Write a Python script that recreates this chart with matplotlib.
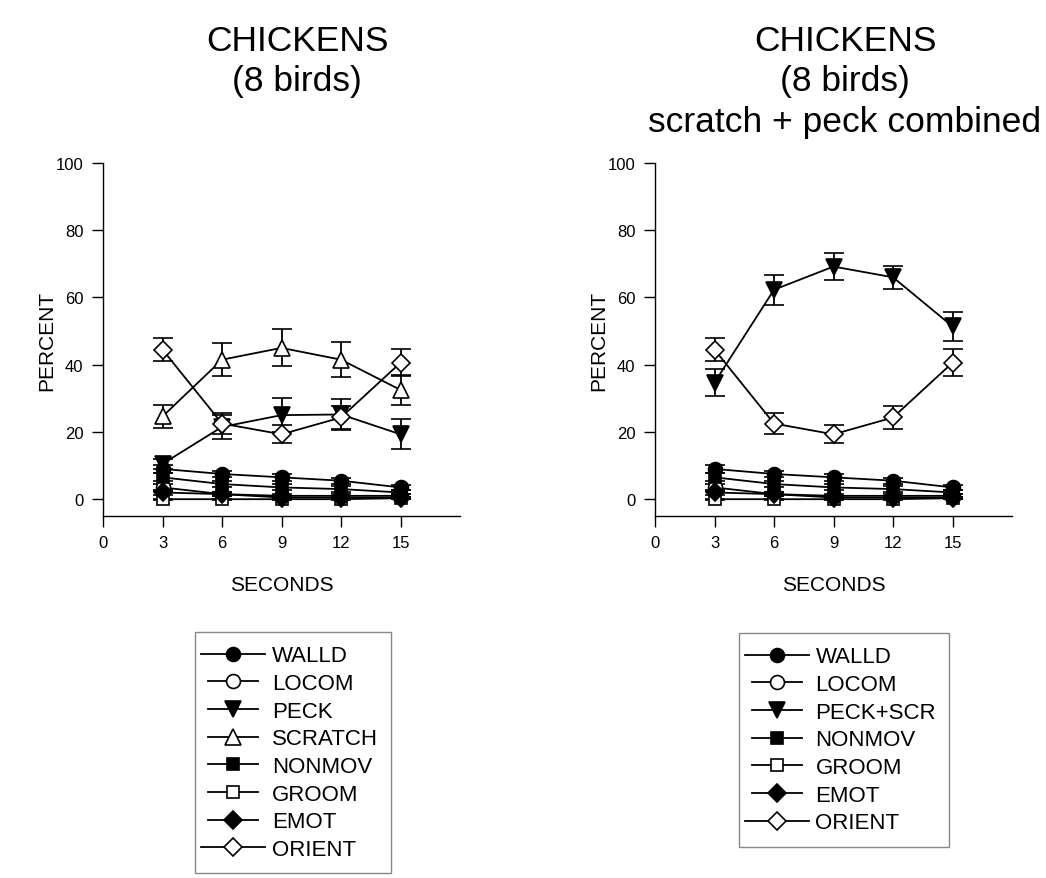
import numpy as np
import matplotlib.pyplot as plt
from matplotlib.legend_handler import HandlerLine2D

plt.rcParams['font.family'] = ['Liberation Sans', 'DejaVu Sans']

seconds = [3, 6, 9, 12, 15]

# mean percent of time per behaviour, 8 birds
walld = [9.0, 7.5, 6.5, 5.5, 3.5]
walld_se = [1.2, 1.0, 1.0, 0.9, 0.8]
locom = [3.5, 1.5, 1.0, 1.0, 1.0]
locom_se = [1.0, 0.6, 0.5, 0.5, 0.5]
peck = [10.5, 21.5, 25.0, 25.2, 19.3]
peck_se = [1.5, 3.5, 5.0, 4.5, 4.5]
scratch = [24.6, 41.5, 45.0, 41.5, 32.5]
scratch_se = [3.3, 4.9, 5.5, 5.2, 4.5]
nonmov = [6.5, 4.5, 3.5, 3.0, 2.0]
nonmov_se = [1.2, 1.0, 0.9, 0.8, 0.6]
groom = [0.0, 0.0, 0.0, 0.0, 0.3]
groom_se = [0.2, 0.2, 0.2, 0.2, 0.3]
emot = [2.0, 1.5, 0.5, 0.5, 0.5]
emot_se = [0.8, 0.6, 0.4, 0.3, 0.3]
orient = [44.5, 22.5, 19.3, 24.3, 40.6]
orient_se = [3.5, 3.2, 2.7, 3.4, 4.0]

# scratch and peck summed
peck_scr = [34.7, 62.3, 69.2, 66.0, 51.4]
peck_scr_se = [3.9, 4.5, 4.0, 3.4, 4.2]

styles = {
    'WALLD': ('o', 'black'),
    'LOCOM': ('o', 'white'),
    'PECK': ('v', 'black'),
    'PECK+SCR': ('v', 'black'),
    'SCRATCH': ('^', 'white'),
    'NONMOV': ('s', 'black'),
    'GROOM': ('s', 'white'),
    'EMOT': ('D', 'black'),
    'ORIENT': ('D', 'white'),
}
msize = {'o': 10, 'v': 11, '^': 11, 's': 9, 'D': 9}


class LongLine(HandlerLine2D):
    # first and last legend entries get a slightly longer line
    def get_xdata(self, legend, xdescent, ydescent, width, height, fontsize):
        xd, xm = super().get_xdata(legend, xdescent, ydescent, width, height, fontsize)
        ext = 5.0
        xd = np.array([-xdescent - ext, -xdescent + width + ext])
        return xd, xm


def draw_panel(ax, series):
    handles = []
    for name, vals, err in series:
        mk, fc = styles[name]
        h = ax.errorbar(seconds, vals, yerr=err, marker=mk, ms=msize[mk],
                        mfc=fc, mec='black', mew=1.2, color='black', lw=1.3,
                        elinewidth=1.3, capsize=7, capthick=1.3, clip_on=False)
        for a in h.lines[1] + h.lines[2]:
            a.set_clip_on(False)
        h.lines[0].set_label(name)
        handles.append(h.lines[0])
    ax.set_xlim(0, 18)
    ax.set_ylim(-5, 100)
    ax.set_xticks([0, 3, 6, 9, 12, 15])
    ax.set_yticks([0, 20, 40, 60, 80, 100])
    ax.spines['top'].set_visible(False)
    ax.spines['right'].set_visible(False)
    for s in ['left', 'bottom']:
        ax.spines[s].set_linewidth(1.0)
    ax.tick_params(direction='out', length=8, width=1.0, labelsize=12, pad=6)
    ax.set_xlabel('SECONDS', fontsize=15, labelpad=18)
    ax.set_ylabel('PERCENT', fontsize=15, labelpad=0)
    return handles


fig = plt.figure(figsize=(10.46, 8.79), dpi=100)
ax1 = fig.add_axes([103 / 1046, 1 - 517 / 879, 357 / 1046, 353 / 879])
ax2 = fig.add_axes([655 / 1046, 1 - 517 / 879, 357 / 1046, 353 / 879])

left_series = [
    ('WALLD', walld, walld_se),
    ('LOCOM', locom, locom_se),
    ('PECK', peck, peck_se),
    ('SCRATCH', scratch, scratch_se),
    ('NONMOV', nonmov, nonmov_se),
    ('GROOM', groom, groom_se),
    ('EMOT', emot, emot_se),
    ('ORIENT', orient, orient_se),
]
right_series = [
    ('WALLD', walld, walld_se),
    ('LOCOM', locom, locom_se),
    ('PECK+SCR', peck_scr, peck_scr_se),
    ('NONMOV', nonmov, nonmov_se),
    ('GROOM', groom, groom_se),
    ('EMOT', emot, emot_se),
    ('ORIENT', orient, orient_se),
]

h1 = draw_panel(ax1, left_series)
h2 = draw_panel(ax2, right_series)

fig.text(297 / 1046, 1 - 25 / 879, 'CHICKENS\n(8 birds)', ha='center', va='top',
         fontsize=25.5, linespacing=1.28)
fig.text(845 / 1046, 1 - 25 / 879, 'CHICKENS\n(8 birds)\nscratch + peck combined',
         ha='center', va='top', fontsize=25.5, linespacing=1.28)

for handles, cx, top in [(h1, 293, 633), (h2, 844, 634)]:
    hmap = {handles[0]: LongLine(), handles[-1]: LongLine()}
    leg = fig.legend(handles, [h.get_label() for h in handles], loc='upper center',
                     bbox_to_anchor=(cx / 1046, 1 - top / 879), fontsize=16,
                     fancybox=False, edgecolor='#888888', framealpha=1,
                     handlelength=2.26, labelspacing=0.3, borderpad=0.6,
                     handletextpad=0.6, borderaxespad=0, handler_map=hmap)
    leg.get_frame().set_linewidth(1.0)

fig.savefig('out.png', dpi=100)
